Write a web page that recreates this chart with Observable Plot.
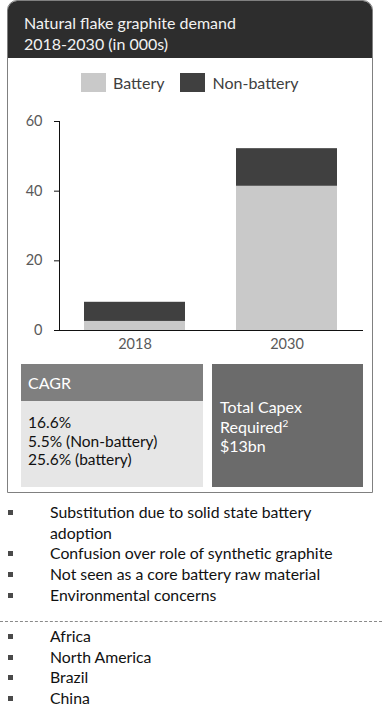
<!DOCTYPE html>
<html>
<head>
<meta charset="utf-8">
<script src="https://cdn.jsdelivr.net/npm/d3@7"></script>
<script src="https://cdn.jsdelivr.net/npm/@observablehq/plot@0.6"></script>
<style>
  html, body { margin:0; padding:0; background:#fff; }
  body { width:382px; height:719px; position:relative; overflow:hidden; font-family: Lato, "Open Sans", sans-serif; color:#111; }
  .abs { position:absolute; }
  .card { left:7px; top:0; width:366px; height:493px; box-sizing:border-box; border:1px solid #808080; border-radius:10px 10px 0 0; overflow:hidden; }
  .hdr { left:0; top:0; width:100%; height:57px; background:#2d2d2d; }
  .title { left:24px; top:12px; color:#f2f2f2; font-size:16px; line-height:21px; }
  .legend { top:73px; left:81px; display:flex; align-items:center; height:19px; font-size:16px; color:#404040; }
  .sw { width:25px; height:19px; display:inline-block; }
  .lt { margin-left:7px; margin-right:16px; }
  #chart { left:0; top:100px; }
  .box1h { left:21px; top:364px; width:182px; height:37px; background:#7f7f7f; color:#fff; font-size:16px; }
  .box1b { left:21px; top:401px; width:182px; height:86px; background:#e6e6e6; font-size:15.5px; color:#111; }
  .box2 { left:212px; top:364px; width:151px; height:123px; background:#6b6b6b; color:#fff; font-size:16px; }
  .list { left:0; font-size:15.8px; line-height:20.7px; color:#111; }
  .item { position:relative; padding-left:50px; white-space:nowrap; }
  .item::before { content:""; position:absolute; left:8px; top:8px; width:5px; height:5px; background:#4a4a4a; }
  .dash { left:0; top:621px; width:382px; height:0; border-top:1px dashed #8a8a8a; }
</style>
</head>
<body>
<div class="abs card"><div class="abs hdr"></div></div>
<div class="abs title" id="title"></div>
<div class="abs legend" id="legend"></div>
<div class="abs" id="chart"></div>
<div class="abs box1h"><div style="position:absolute;left:7px;top:10px;line-height:18px;" id="cagrHead"></div></div>
<div class="abs box1b"><div style="position:absolute;left:7px;top:12px;line-height:18.5px;" id="cagrBody"></div></div>
<div class="abs box2"><div style="position:absolute;left:8px;top:33px;line-height:19.5px;" id="capex"></div></div>
<div class="abs list" id="list1" style="top:502px;"></div>
<div class="abs dash"></div>
<div class="abs list" id="list2" style="top:626px;"></div>
<script>
// ---- data ----
const titleLines = ["Natural flake graphite demand", "2018-2030 (in 000s)"];
const years = ["2018", "2030"];
const seriesNames = ["Battery", "Non-battery"];
const seriesColors = ["#c9c9c9", "#404040"];
const battery = [2.6, 41.4];
const nonBattery = [5.5, 10.8];
const yTicks = [0, 20, 40, 60];
const cagrTitle = "CAGR";
const cagrLines = ["16.6%", "5.5% (Non-battery)", "25.6% (battery)"];
const capexLines = ["Total Capex", "Required<sup style=\"font-size:10px;vertical-align:6px;line-height:0\">2</sup>", "$13bn"];
const risks = ["Substitution due to solid state battery<br>adoption", "Confusion over role of synthetic graphite", "Not seen as a core battery raw material", "Environmental concerns"];
const regions = ["Africa", "North America", "Brazil", "China"];

// ---- text ----
document.getElementById("title").innerHTML = titleLines.join("<br>");
document.getElementById("legend").innerHTML = seriesNames.map((s, i) =>
  `<span class="sw" style="background:${seriesColors[i]}"></span><span class="lt">${s}</span>`).join("");
document.getElementById("cagrHead").textContent = cagrTitle;
document.getElementById("cagrBody").innerHTML = cagrLines.join("<br>");
document.getElementById("capex").innerHTML = capexLines.join("<br>");
document.getElementById("list1").innerHTML = risks.map(t => `<div class="item">${t}</div>`).join("");
document.getElementById("list2").innerHTML = regions.map(t => `<div class="item">${t}</div>`).join("");

// ---- chart ----
const data = years.flatMap((y, i) => [
  {year: y, type: seriesNames[0], value: battery[i]},
  {year: y, type: seriesNames[1], value: nonBattery[i]}
]);

const plot = Plot.plot({
  width: 382,
  height: 260,
  marginLeft: 59,
  marginRight: 19,
  marginTop: 21,
  marginBottom: 30,
  style: {fontFamily: "Lato, 'Open Sans', sans-serif", fontSize: "14.5px", color: "#595959", background: "transparent", overflow: "visible"},
  x: {domain: years, paddingInner: 0.335, paddingOuter: 0.1675, label: null},
  y: {domain: [0, 60], ticks: yTicks, label: null},
  color: {domain: seriesNames, range: seriesColors},
  marks: [
    Plot.barY(data, {x: "year", y: "value", fill: "type"}),
    Plot.axisY({ticks: yTicks, tickSize: 5, tickPadding: 12, label: null, stroke: "#111", fill: "#595959"}),
    Plot.axisX({tickSize: 0, tickPadding: 8, label: null, fill: "#595959"}),
    Plot.frame({anchor: "left", stroke: "#111"}),
    Plot.ruleY([0], {stroke: "#111"})
  ]
});
document.getElementById("chart").appendChild(plot);
</script>
</body>
</html>
